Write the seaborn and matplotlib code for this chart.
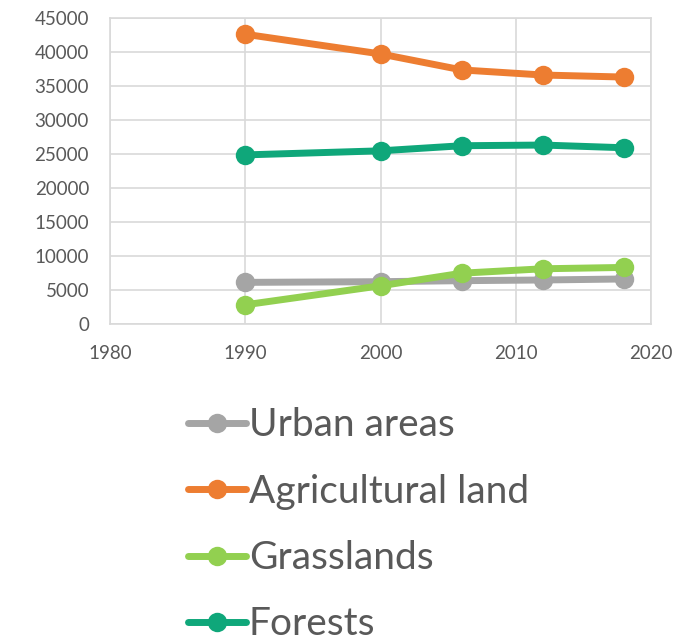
import matplotlib
matplotlib.use("Agg")
import matplotlib.pyplot as plt
import pandas as pd
import seaborn as sns

# --- Data ---
years = [1990, 2000, 2006, 2012, 2018]
urban = [6100, 6200, 6350, 6450, 6600]
agricultural = [42600, 39700, 37350, 36600, 36300]
grasslands = [2800, 5600, 7450, 8100, 8300]
forests = [24850, 25450, 26200, 26300, 25900]

series_names = ["Urban areas", "Agricultural land", "Grasslands", "Forests"]
series_colors = ["#A5A5A5", "#ED7D31", "#92D050", "#0FA77A"]

x_ticks = [1980, 1990, 2000, 2010, 2020]
y_ticks = [0, 5000, 10000, 15000, 20000, 25000, 30000, 35000, 40000, 45000]

# long-form table for seaborn
df = pd.concat([
    pd.DataFrame({"year": years, "value": vals, "series": name})
    for name, vals in zip(series_names, [urban, agricultural, grasslands, forests])
])

sns.set_style("white")
plt.rcParams["font.family"] = ["Lato", "DejaVu Sans"]

fig = plt.figure(figsize=(6.87, 6.40), dpi=100)
ax = fig.add_axes([0.160, 0.494, 0.788, 0.478])

sns.lineplot(
    data=df, x="year", y="value", hue="series",
    hue_order=series_names, palette=series_colors,
    marker="o", markersize=14, markeredgewidth=0,
    linewidth=5, ax=ax, legend=True,
)

ax.set_xlim(1980, 2020)
ax.set_ylim(0, 45000)
ax.set_xticks(x_ticks)
ax.set_yticks(y_ticks)
ax.set_xlabel("")
ax.set_ylabel("")
ax.grid(True, color="#D9D9D9", linewidth=1.2)
ax.set_axisbelow(True)
for sp in ax.spines.values():
    sp.set_color("#D9D9D9")
    sp.set_linewidth(1.2)
ax.tick_params(length=0, labelsize=13.5, labelcolor="#595959")
ax.tick_params(axis="x", pad=15)
ax.tick_params(axis="y", pad=15)

# legend below the plot, big text like the original
handles, labels = ax.get_legend_handles_labels()
ax.get_legend().remove()
fig.legend(
    handles, labels, loc="upper left", bbox_to_anchor=(0.222, 0.418),
    frameon=False, fontsize=28, labelcolor="#595959",
    handlelength=1.5, handletextpad=0.08, labelspacing=0.78,
    markerscale=1.0,
)

fig.savefig("out.png", dpi=100)
